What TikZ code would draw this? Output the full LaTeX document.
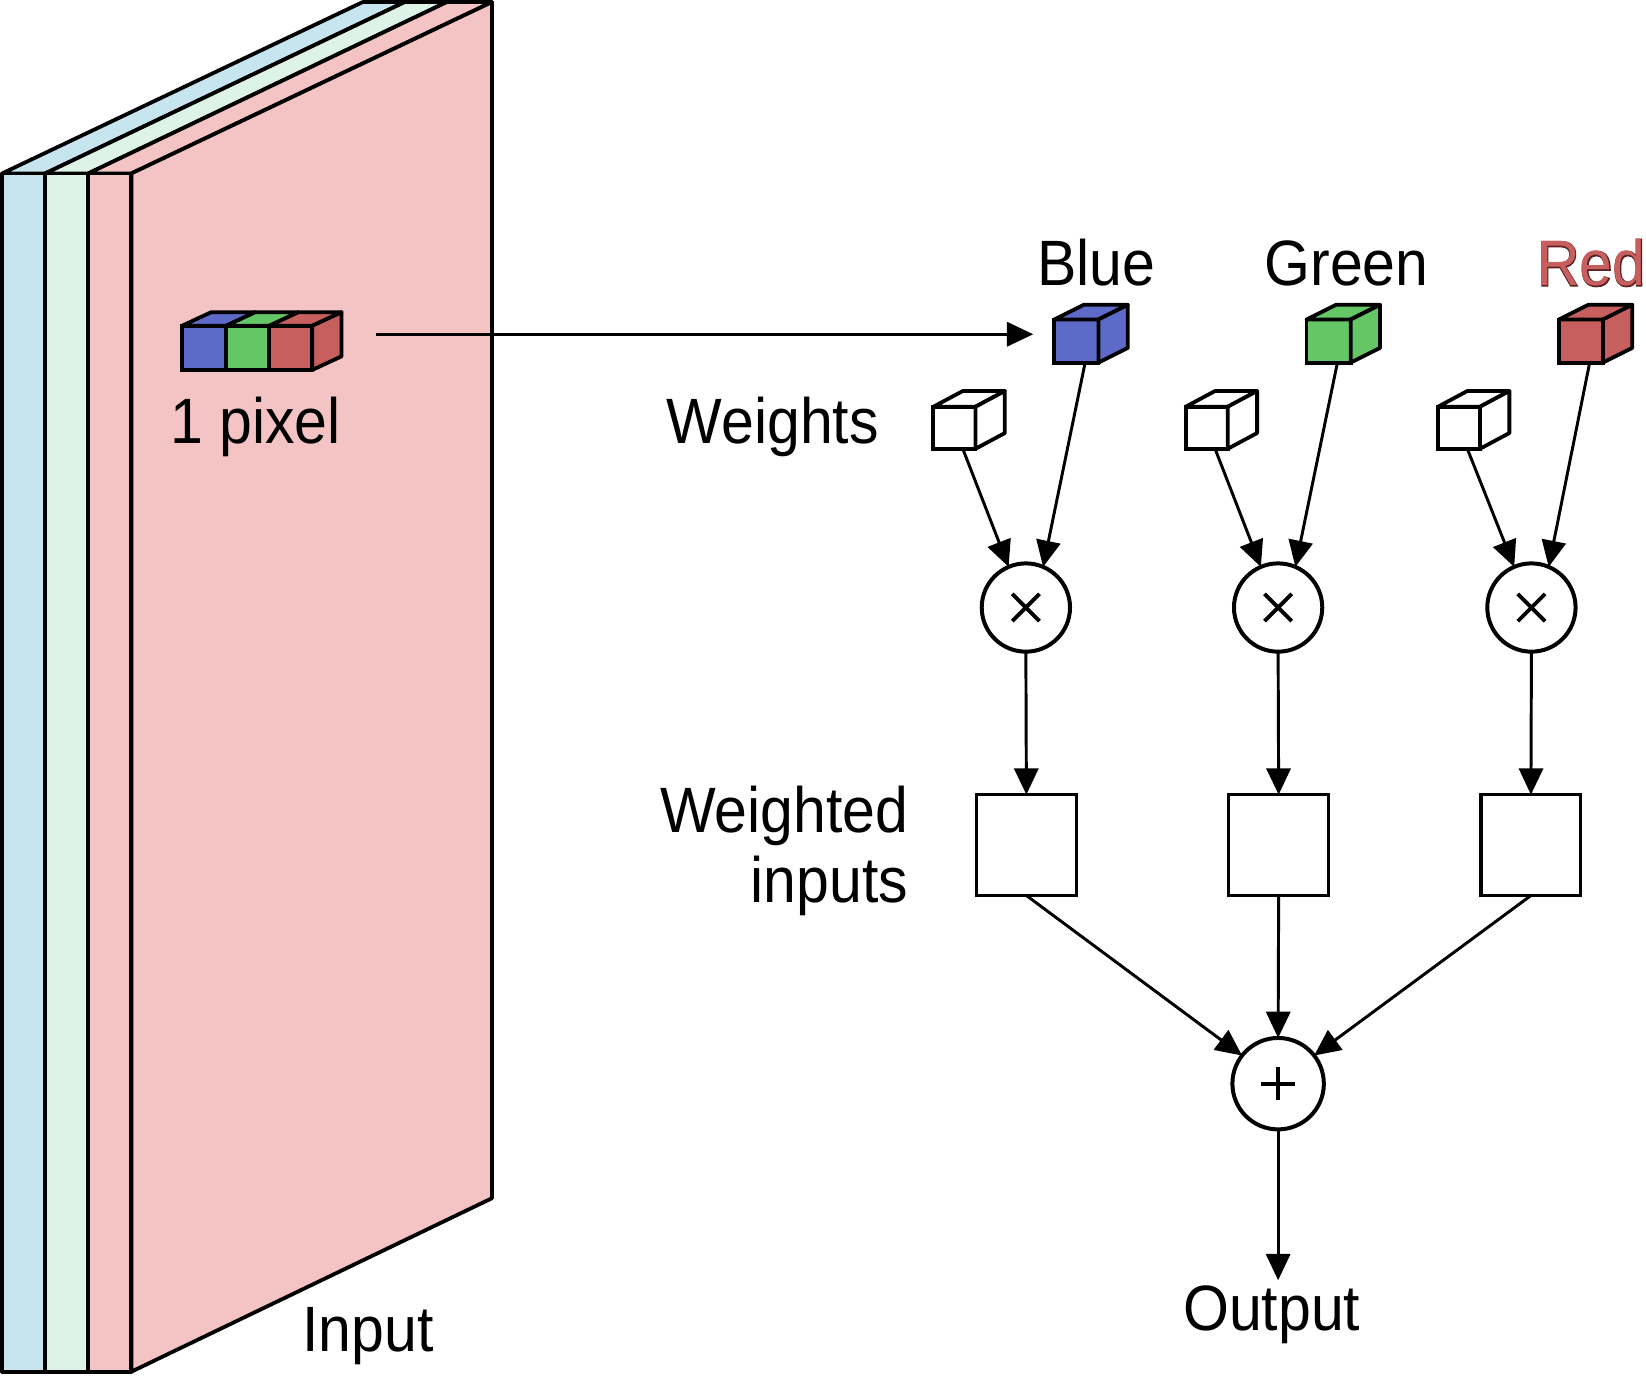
\documentclass[tikz,border=0pt]{standalone}
\usepackage{fontspec}
\usepackage{graphicx}
\setmainfont{Liberation Sans}
\usetikzlibrary{arrows.meta,calc}
\definecolor{layerblue}{HTML}{C7E5EE}
\definecolor{layergreen}{HTML}{DDF3E7}
\definecolor{layerpink}{HTML}{F4C4C5}
\definecolor{cubeblue}{HTML}{5E6AC7}
\definecolor{cubegreen}{HTML}{64C664}
\definecolor{cubered}{HTML}{C85F5F}
\definecolor{redtext}{HTML}{C85F5F}
\definecolor{rededge}{HTML}{5A1E1E}
\newcommand\sqz[1]{\scalebox{0.92}[1]{#1}}
\newcommand\cubefaces[4]{%
  \draw[cubeln, fill=#4] (#1.north west) -- ++(#2,#3) -- ($(#1.north east)+(#2,#3)$) -- (#1.north east) -- cycle;
  \draw[cubeln, fill=#4] (#1.north east) -- ++(#2,#3) -- ($(#1.south east)+(#2,#3)$) -- (#1.south east) -- cycle;
}
\tikzset{
  slab/.style={draw=black, line width=3.6pt, line join=round},
  cubeln/.style={draw=black, line width=3.6pt, line join=round},
  face/.style={draw=black, line width=3.6pt, outer sep=0pt, inner sep=0pt, rectangle},
  lbl/.style={font=\fontsize{61pt}{70pt}\selectfont, inner sep=0pt, outer sep=0pt},
  arr/.style={line width=2.8pt, -{Triangle[length=25pt, width=23pt]}},
  opcircle/.style={circle, draw=black, line width=3.8pt, fill=white, outer sep=0pt, inner sep=0pt},
  wbox/.style={rectangle, draw=black, line width=3pt, fill=white, outer sep=0pt, inner sep=0pt, minimum width=95pt, minimum height=96pt},
  sym/.style={line width=3.6pt},
}
\begin{document}
\begin{tikzpicture}[x=1pt, y=-1pt]
\useasboundingbox (0,0) rectangle (1566,1311);
% ---------- input slab ----------
\draw[slab, fill=layerblue] (2,165) -- (345,2) -- (385,2) -- (43,165) -- cycle;
\draw[slab, fill=layerblue] (2,165) rectangle (43,1305);
\draw[slab, fill=layergreen] (43,165) -- (385,2) -- (425,2) -- (84,165) -- cycle;
\draw[slab, fill=layergreen] (43,165) rectangle (84,1305);
\draw[slab, fill=layerpink] (84,165) -- (425,2) -- (468,2) -- (125,165) -- cycle;
\draw[slab, fill=layerpink] (84,165) rectangle (125,1305);
\draw[slab, fill=layerpink] (125,165) -- (468,2) -- (468,1140) -- (125,1305) -- cycle;
\node[lbl, anchor=base] (inputlbl) at (350,1286) {\sqz{Input}};
% ---------- pixel ----------
\node[face, fill=cubeblue, minimum width=42pt, minimum height=42pt] (pb) at (194,331) {};
\node[face, fill=cubegreen, minimum width=41pt, minimum height=42pt] (pg) at (235.5,331) {};
\node[face, fill=cubered, minimum width=41pt, minimum height=42pt] (pr) at (276.5,331) {};
\draw[cubeln, fill=cubeblue] (pb.north west) -- ++(28,-13) -- ($(pb.north east)+(28,-13)$) -- (pb.north east) -- cycle;
\draw[cubeln, fill=cubegreen] (pg.north west) -- ++(28,-13) -- ($(pg.north east)+(28,-13)$) -- (pg.north east) -- cycle;
\cubefaces{pr}{28}{-13}{cubered}
\node[lbl, anchor=base] (pixlbl) at (243,422) {\sqz{1 pixel}};
\coordinate (pixout) at (358,318);
% ---------- colour cubes ----------
\node[face, fill=cubeblue, minimum width=42pt, minimum height=41pt] (cb) at (1024,324.5) {};
\cubefaces{cb}{28}{-14}{cubeblue}
\node[face, fill=cubegreen, minimum width=42pt, minimum height=41pt] (cg) at (1264,324.5) {};
\cubefaces{cg}{28}{-14}{cubegreen}
\node[face, fill=cubered, minimum width=42pt, minimum height=41pt] (cr) at (1504,324.5) {};
\cubefaces{cr}{28}{-14}{cubered}
\node[lbl, anchor=base] (blbl) at (1043,272) {\sqz{Blue}};
\node[lbl, anchor=base] (glbl) at (1281,272) {\sqz{Green}};
\node[lbl, anchor=base, text=rededge] (rlblbg) at (1514,272) {\sqz{\addfontfeature{FakeBold=2.5}Red}};
\node[lbl, anchor=base, text=redtext] (rlbl) at (1514,272) {\sqz{Red}};
\draw[arr] (pixout) -- ($(cb.west)+(-20,-6.5)$) coordinate (cbin);
% ---------- weight cubes ----------
\node[face, fill=white, minimum width=40pt, minimum height=40pt] (w1) at (908,407) {};
\cubefaces{w1}{28}{-15}{white}
\node[face, fill=white, minimum width=40pt, minimum height=40pt] (w2) at (1148,407) {};
\cubefaces{w2}{28}{-15}{white}
\node[face, fill=white, minimum width=40pt, minimum height=40pt] (w3) at (1388,407) {};
\cubefaces{w3}{28}{-15}{white}
\node[lbl, anchor=base east] (wlbl) at (836,422) {\sqz{Weights}};
% ---------- multiply ----------
\foreach \i/\x in {1/976, 2/1216, 3/1457} {
  \node[opcircle, minimum size=84pt] (m\i) at (\x,578) {};
  \draw[sym] ($(m\i)+(-13,-13)$) -- ($(m\i)+(13,13)$);
  \draw[sym] ($(m\i)+(-13,13)$) -- ($(m\i)+(13,-13)$);
}
\draw[arr] ($(w1.south west)!0.7!(w1.south east)$) -- (m1.113);
\draw[arr] ($(cb.south west)!0.7!(cb.south east)$) -- (m1.67);
\draw[arr] ($(w2.south west)!0.7!(w2.south east)$) -- (m2.113);
\draw[arr] ($(cg.south west)!0.7!(cg.south east)$) -- (m2.67);
\draw[arr] ($(w3.south west)!0.7!(w3.south east)$) -- (m3.113);
\draw[arr] ($(cr.south west)!0.7!(cr.south east)$) -- (m3.67);
% ---------- weighted inputs ----------
\node[wbox] (b1) at (976.5,804) {};
\node[wbox] (b2) at (1216.5,804) {};
\node[wbox] (b3) at (1456.5,804) {};
\draw[arr] (m1.south) -- (b1.north);
\draw[arr] (m2.south) -- (b2.north);
\draw[arr] (m3.south) -- (b3.north);
\node[lbl, anchor=base east] (wi1) at (864,792) {\sqz{Weighted}};
\node[lbl, anchor=base east] (wi2) at (864,859) {\sqz{inputs}};
% ---------- sum ----------
\node[opcircle, minimum size=87pt] (sum) at (1216,1031) {};
\draw[sym] ($(sum)+(-16,0)$) -- ($(sum)+(16,0)$);
\draw[sym] ($(sum)+(0,-16)$) -- ($(sum)+(0,16)$);
\draw[arr] (b1.south) -- (sum.142);
\draw[arr] (b2.south) -- (sum.north);
\draw[arr] (b3.south) -- (sum.38);
\coordinate (outpt) at (1216,1218);
\draw[arr] (sum.south) -- (outpt);
\node[lbl, anchor=base] (outlbl) at (1210,1266) {\sqz{Output}};
\end{tikzpicture}
\end{document}
